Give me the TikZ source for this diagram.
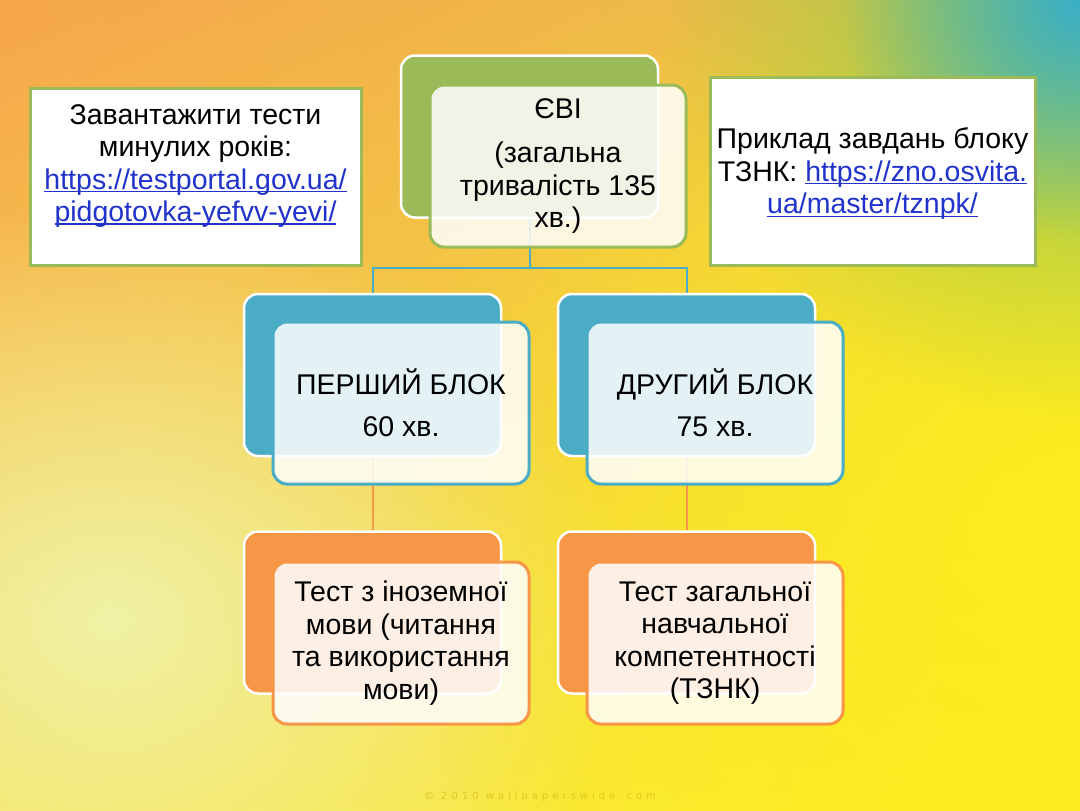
\documentclass[tikz,border=0pt]{standalone}
\usepackage{fontspec}
\setmainfont{Liberation Sans}
\newfontfamily\wmfont[LetterSpace=40]{DejaVu Sans}
\usetikzlibrary{fadings,shadings}
\definecolor{bgUL}{HTML}{F6A54B}
\definecolor{bgUR}{HTML}{EAC846}
\definecolor{bgLL}{HTML}{F8E24E}
\definecolor{bgLR}{HTML}{FCEE1E}
\definecolor{bgPale}{HTML}{F0F2A6}
\definecolor{bgGreen}{HTML}{8CC84E}
\definecolor{bgTeal}{HTML}{3AAFC8}
\definecolor{cGreen}{HTML}{9BBB59}
\definecolor{cBlue}{HTML}{4BACC6}
\definecolor{cOrange}{HTML}{F79646}
\definecolor{cLink}{HTML}{2233CC}
\definecolor{cWater}{HTML}{DCC820}
\tikzfading[name=softfade, inner color=transparent!0, outer color=transparent!100]
\newcommand{\boxfont}{\fontsize{28.5}{32.5}\selectfont}
\newcommand{\lnk}[1]{\textcolor{cLink}{\setbox0\hbox{#1}\rlap{\rule[-3pt]{\wd0}{1.3pt}}\box0}}
\begin{document}
\begin{tikzpicture}[x=1pt,y=-1pt,
  backbox/.style={rectangle, rounded corners=14pt, minimum width=257pt, minimum height=162pt, draw=white, line width=2.5pt, inner sep=0pt},
  frontbox/.style={rectangle, rounded corners=14pt, minimum width=256pt, minimum height=162pt, fill=white, fill opacity=0.85, text opacity=1, line width=3pt, align=center, font=\boxfont, inner sep=0pt},
  infobox/.style={rectangle, fill=white, draw=cGreen, line width=3pt, inner sep=0pt},
  infotext/.style={align=center, font=\boxfont, inner sep=0pt},
  conblue/.style={draw=cBlue, line width=2pt},
  conorange/.style={draw=cOrange, line width=2pt}]
\useasboundingbox (0,0) rectangle (1080,811);
% background
\shade[upper left=bgUL, upper right=bgUR, lower left=bgLL, lower right=bgLR] (0,0) rectangle (1080,811);
\begin{scope}
\clip (0,0) rectangle (1080,811);
\fill[bgPale, path fading=softfade] (110,620) ellipse (520 and 420);
\fill[bgLR, path fading=softfade] (1080,520) ellipse (700 and 600);
\fill[bgGreen, path fading=softfade] (1080,0) circle (420);
\fill[bgTeal, path fading=softfade] (1080,0) circle (240);
\end{scope}
\node[font=\wmfont\fontsize{10}{10}\selectfont, text=cWater, inner sep=0pt] (wm) at (540,797) {© 2010 wallpaperswide.com};
% connectors
\coordinate (j) at (529.5,268);
\path (529.5,136.5) node[backbox, draw=none, fill=none] (evib) {};
\path (372.5,375) node[backbox, draw=none, fill=none] (b1b) {};
\path (686.5,375) node[backbox, draw=none, fill=none] (b2b) {};
\path (372.5,612.5) node[backbox, draw=none, fill=none] (o1b) {};
\path (686.5,612.5) node[backbox, draw=none, fill=none] (o2b) {};
\draw[conblue] (evib.south) -- (j);
\draw[conblue] (j) -| (b1b.north);
\draw[conblue] (j) -| (b2b.north);
\draw[conorange] (b1b.south) -- (o1b.north);
\draw[conorange] (b2b.south) -- (o2b.north);
% back boxes
\node[backbox, fill=cGreen] (evibk) at (evib) {};
\node[backbox, fill=cBlue] (b1bk) at (b1b) {};
\node[backbox, fill=cBlue] (b2bk) at (b2b) {};
\node[backbox, fill=cOrange] (o1bk) at (o1b) {};
\node[backbox, fill=cOrange] (o2bk) at (o2b) {};
% front boxes
\node[frontbox, draw=cGreen] (evif) at (558,166) {ЄВІ\\[12pt](загальна\\тривалість 135\\хв.)};
\node[frontbox, draw=cBlue] (b1f) at (401,403) {ПЕРШИЙ БЛОК\\[10pt]60 хв.};
\node[frontbox, draw=cBlue] (b2f) at (715,403) {ДРУГИЙ БЛОК\\[10pt]75 хв.};
\node[frontbox, draw=cOrange] (o1f) at (401,643) {Тест з іноземної\\мови (читання\\та використання\\мови)};
\node[frontbox, draw=cOrange] (o2f) at (715,643) {Тест загальної\\навчальної\\компетентності\\(ТЗНК)};
% info boxes
\node[infobox, minimum width=331pt, minimum height=177pt] (lbox) at (195.5,176.5) {};
\node[infotext] (ltext) at (195.5,166) {Завантажити тести\\минулих років:\\\lnk{https://testportal.gov.ua/}\\\lnk{pidgotovka-yefvv-yevi/}};
\node[infobox, minimum width=325pt, minimum height=188pt] (rbox) at (872.5,171) {};
\node[infotext] (rtext) at (872.5,174) {Приклад завдань блоку\\ТЗНК: \lnk{https://zno.osvita.}\\\lnk{ua/master/tznpk/}};
\end{tikzpicture}
\end{document}
